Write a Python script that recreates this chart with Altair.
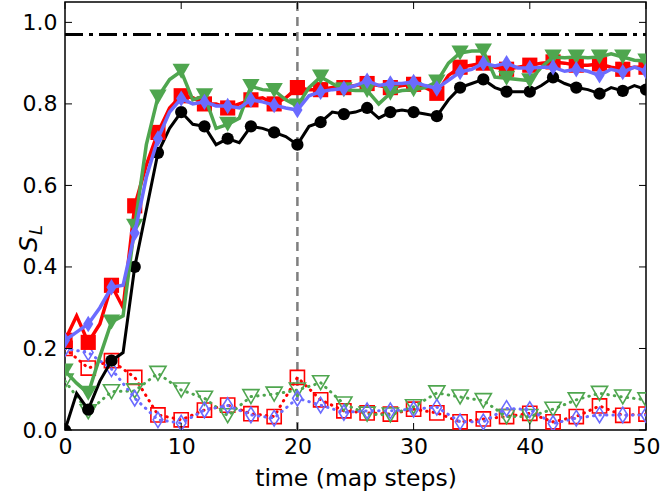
import altair as alt
import pandas as pd

steps = list(range(51))
even_steps = list(range(0, 51, 2))

black = [0.0, 0.09, 0.05, 0.12, 0.17, 0.19, 0.40, 0.54, 0.68, 0.74,
         0.78, 0.75, 0.745, 0.70, 0.715, 0.705, 0.745, 0.74, 0.73, 0.72,
         0.70, 0.745, 0.755, 0.78, 0.775, 0.78, 0.79, 0.765, 0.78, 0.785,
         0.78, 0.775, 0.77, 0.81, 0.84, 0.85, 0.86, 0.84, 0.83, 0.83,
         0.83, 0.845, 0.865, 0.85, 0.84, 0.835, 0.825, 0.84, 0.832, 0.845,
         0.835]
red = [0.22, 0.28, 0.215, 0.26, 0.355, 0.30, 0.55, 0.65, 0.73, 0.79,
       0.82, 0.815, 0.80, 0.80, 0.79, 0.80, 0.81, 0.815, 0.80, 0.815,
       0.84, 0.835, 0.835, 0.84, 0.84, 0.845, 0.85, 0.845, 0.84, 0.845,
       0.848, 0.84, 0.826, 0.87, 0.89, 0.895, 0.90, 0.89, 0.885, 0.89,
       0.895, 0.90, 0.903, 0.90, 0.895, 0.895, 0.898, 0.89, 0.885, 0.89,
       0.89]
green = [0.145, 0.115, 0.09, 0.18, 0.265, 0.28, 0.50, 0.70, 0.817, 0.86,
         0.88, 0.81, 0.82, 0.74, 0.75, 0.765, 0.843, 0.835, 0.833, 0.81,
         0.795, 0.84, 0.866, 0.85, 0.835, 0.833, 0.833, 0.80, 0.826, 0.833,
         0.835, 0.84, 0.854, 0.90, 0.925, 0.93, 0.93, 0.866, 0.863, 0.86,
         0.857, 0.89, 0.915, 0.913, 0.915, 0.913, 0.915, 0.923, 0.915, 0.907,
         0.905]
blue = [0.22, 0.24, 0.26, 0.30, 0.35, 0.355, 0.483, 0.62, 0.715, 0.78,
        0.813, 0.80, 0.805, 0.795, 0.795, 0.79, 0.81, 0.805, 0.797, 0.79,
        0.785, 0.82, 0.83, 0.835, 0.838, 0.845, 0.857, 0.845, 0.85, 0.85,
        0.854, 0.845, 0.838, 0.858, 0.878, 0.885, 0.90, 0.893, 0.90, 0.888,
        0.888, 0.89, 0.89, 0.88, 0.885, 0.88, 0.87, 0.885, 0.878, 0.89,
        0.88]

red_open = [0.20, 0.152, 0.17, 0.129, 0.037, 0.025, 0.049, 0.061, 0.04, 0.033,
            0.129, 0.074, 0.047, 0.042, 0.039, 0.051, 0.042, 0.02, 0.027, 0.033,
            0.041, 0.02, 0.033, 0.059, 0.036, 0.039]
blue_open = [0.20, 0.19, 0.15, 0.078, 0.025, 0.017, 0.049, 0.06, 0.037, 0.029,
             0.078, 0.061, 0.043, 0.047, 0.047, 0.051, 0.056, 0.02, 0.02, 0.053,
             0.05, 0.016, 0.029, 0.037, 0.037, 0.037]
green_open = [0.12, 0.045, 0.094, 0.096, 0.139, 0.098, 0.078, 0.035, 0.082, 0.088,
              0.098, 0.116, 0.064, 0.039, 0.037, 0.057, 0.091, 0.081, 0.072, 0.033,
              0.033, 0.051, 0.074, 0.09, 0.081, 0.074]

ref_level = [0.97]
marker_time = [20]
x_ticks = [0, 10, 20, 30, 40, 50]
y_ticks = [0.0, 0.2, 0.4, 0.6, 0.8, 1.0]

W, H = 581, 428
FONT = "DejaVu Sans"
THIN_DIAMOND = "M0,-1L0.62,0L0,1L-0.62,0Z"

xs = alt.Scale(domain=[0, 50], nice=False, zero=False)
ys = alt.Scale(domain=[0, 1.05], nice=False, zero=False)

x_axis = alt.Axis(values=x_ticks, title="time (map steps)", grid=False, domain=False,
                  tickSize=0, labelFontSize=22, labelPadding=6, labelFont=FONT,
                  labelColor="black", titleFont=FONT, titleFontSize=23.5,
                  titleFontWeight="normal", titleColor="black", titlePadding=9,
                  labelFlush=False)
y_axis = alt.Axis(values=y_ticks, title=None, grid=False, domain=False, format=".1f",
                  tickSize=0, labelFontSize=22, labelPadding=8, labelFont=FONT,
                  labelColor="black", labelFlush=False)

solid = pd.DataFrame({"t": steps * 4,
                      "v": black + red + green + blue,
                      "s": ["black"] * 51 + ["red"] * 51 + ["green"] * 51 + ["blue"] * 51})
dotted = pd.DataFrame({"t": even_steps * 3,
                       "v": red_open + green_open + blue_open,
                       "s": ["red"] * 26 + ["green"] * 26 + ["blue"] * 26})

colors = {"black": "#000000", "red": "#ff0000", "green": "#4fa64f", "blue": "#6b6bff"}
shapes = {"black": ("circle", 150), "red": ("square", 230),
          "green": ("triangle-down", 300), "blue": (THIN_DIAMOND, 270)}
open_sizes = {"red": 200, "green": 260, "blue": 240}

base_x = alt.X("t:Q", scale=xs, axis=x_axis)
base_y = alt.Y("v:Q", scale=ys, axis=y_axis)

layers = []

# reference lines
layers.append(alt.Chart(pd.DataFrame({"y": ref_level})).mark_rule(
    color="black", strokeWidth=3, strokeDash=[18, 6, 4, 6]).encode(
    y=alt.Y("y:Q", scale=ys, axis=y_axis), x=alt.value(0), x2=alt.value(W)))
layers.append(alt.Chart(pd.DataFrame({"t": marker_time})).mark_rule(
    color="#7f7f7f", strokeWidth=2.5, strokeDash=[9, 6]).encode(
    x=alt.X("t:Q", scale=xs, axis=x_axis), y=alt.value(0), y2=alt.value(H)))

for name in ["red", "green", "blue"]:
    sub = alt.Chart(dotted).transform_filter(alt.datum.s == name)
    layers.append(sub.mark_line(color=colors[name], strokeWidth=3, strokeDash=[0.5, 6],
                                strokeCap="round", clip=True).encode(x=base_x, y=base_y))
    layers.append(sub.mark_point(shape=shapes[name][0], size=open_sizes[name], filled=False,
                                 color=colors[name], strokeWidth=1.6, opacity=1,
                                 clip=True).encode(x=base_x, y=base_y))

for name in ["black", "red", "green", "blue"]:
    sub = alt.Chart(solid).transform_filter(alt.datum.s == name)
    layers.append(sub.mark_line(color=colors[name], strokeWidth=3.5 if name != "black" else 3,
                                clip=True).encode(x=base_x, y=base_y))
    layers.append(sub.transform_filter("datum.t % 2 == 0").mark_point(
        shape=shapes[name][0], size=shapes[name][1], filled=True, color=colors[name],
        opacity=1, clip=True).encode(x=base_x, y=base_y))

# inward ticks
xt = pd.DataFrame({"t": x_ticks})
yt = pd.DataFrame({"y": y_ticks})
layers.append(alt.Chart(xt).mark_rule(color="black", strokeWidth=1).encode(
    x=alt.X("t:Q", scale=xs, axis=x_axis), y=alt.value(H), y2=alt.value(H - 7)))
layers.append(alt.Chart(xt).mark_rule(color="black", strokeWidth=1).encode(
    x=alt.X("t:Q", scale=xs, axis=x_axis), y=alt.value(0), y2=alt.value(7)))
layers.append(alt.Chart(yt).mark_rule(color="black", strokeWidth=1).encode(
    y=alt.Y("y:Q", scale=ys, axis=y_axis), x=alt.value(0), x2=alt.value(7)))
layers.append(alt.Chart(yt).mark_rule(color="black", strokeWidth=1).encode(
    y=alt.Y("y:Q", scale=ys, axis=y_axis), x=alt.value(W), x2=alt.value(W - 7)))

# y axis title S_L
lab = pd.DataFrame({"txt": ["S"]})
layers.append(alt.Chart(lab).mark_text(font=FONT, fontSize=25, fontStyle="italic",
                                       angle=270, color="black").encode(
    text="txt:N", x=alt.value(-36), y=alt.value(242)))
lab2 = pd.DataFrame({"txt": ["L"]})
layers.append(alt.Chart(lab2).mark_text(font=FONT, fontSize=18, fontStyle="italic",
                                        angle=270, color="black").encode(
    text="txt:N", x=alt.value(-28), y=alt.value(228)))

chart = alt.layer(*layers).properties(
    width=W, height=H,
    padding={"left": 65, "top": 2, "right": 15, "bottom": 63},
    autosize=alt.AutoSizeParams(type="none"),
    background="white",
).configure_view(stroke="black", strokeWidth=1.5)

chart.save("out.html", embed_options={"renderer": "svg", "actions": False})
